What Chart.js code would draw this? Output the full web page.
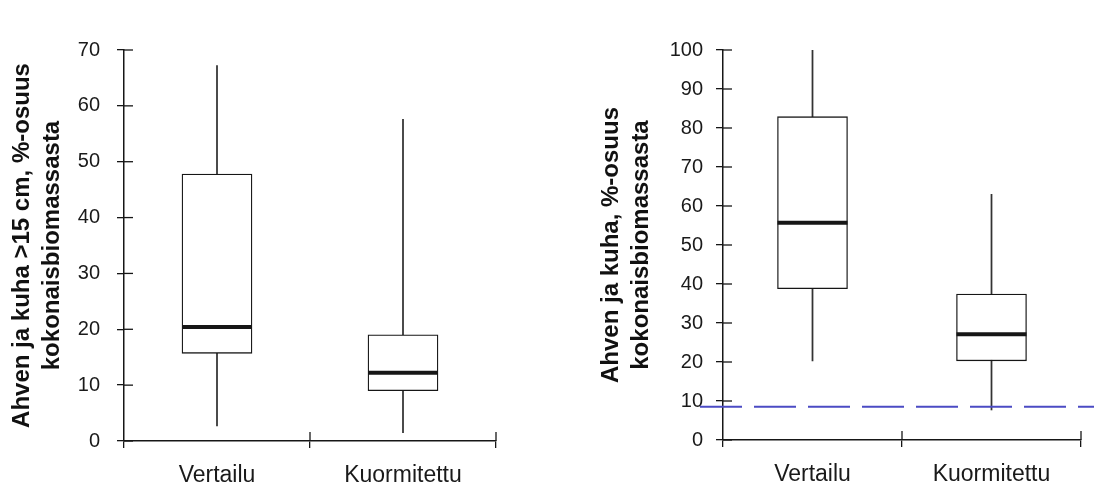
<!DOCTYPE html>
<html lang="fi">
<head>
<meta charset="UTF-8">
<title>Ahven ja kuha</title>
<script src="https://cdn.jsdelivr.net/npm/chart.js"></script>
<style>
  body { margin: 0; background: #fff; }
  .wrap { position: relative; width: 1094px; height: 488px; }
  .panel { position: absolute; top: 0; width: 547px; height: 488px; }
  #left { left: 0; }
  #right { left: 547px; }
</style>
</head>
<body>
<div class="wrap">
  <div class="panel" id="left"><canvas id="c1"></canvas></div>
  <div class="panel" id="right"><canvas id="c2"></canvas></div>
</div>
<script>
const categories = ['Vertailu', 'Kuormitettu'];

// vasen kuva: ahven ja kuha >15 cm
const leftMin = [2.7, 1.5];
const leftQ1 = [15.7, 9.0];
const leftMedian = [20.4, 12.2];
const leftQ3 = [47.8, 19.0];
const leftMax = [67.2, 57.6];
const leftTitle = ['Ahven ja kuha >15 cm, %-osuus', 'kokonaisbiomassasta'];

// oikea kuva: ahven ja kuha
const rightMin = [20.3, 7.7];
const rightQ1 = [38.8, 20.3];
const rightMedian = [55.7, 27.1];
const rightQ3 = [82.9, 37.4];
const rightMax = [100, 63.0];
const rightRefLine = 8.5;
const rightTitle = ['Ahven ja kuha, %-osuus', 'kokonaisbiomassasta'];

const FONT = "'Liberation Sans', Arial, sans-serif";
const INK = '#161616';

// median, inner half of tick marks, reference line
const boxExtras = {
  id: 'boxExtras',
  afterDatasetsDraw(chart, args, opts) {
    const { ctx, chartArea, scales: { x, y } } = chart;
    const boxes = chart.getDatasetMeta(0).data;
    const line = (x1, y1, x2, y2) => { ctx.beginPath(); ctx.moveTo(x1, y1); ctx.lineTo(x2, y2); ctx.stroke(); };
    ctx.save();
    ctx.strokeStyle = INK;
    ctx.lineWidth = 4;
    opts.median.forEach((m, i) => {
      const b = boxes[i];
      const py = y.getPixelForValue(m);
      line(b.x - b.width / 2, py, b.x + b.width / 2, py);
    });
    ctx.lineWidth = 1.3;
    y.ticks.forEach((t, i) => {
      const py = y.getPixelForTick(i);
      line(chartArea.left, py, chartArea.left + 9, py);
    });
    const n = x.ticks.length;
    const step = (x.right - x.left) / n;
    for (let k = 1; k <= n; k++) {
      const px = x.left + k * step;
      line(px, chartArea.bottom, px, chartArea.bottom - 9);
    }
    if (opts.refLine != null) {
      const py = y.getPixelForValue(opts.refLine);
      ctx.strokeStyle = '#4b4bc4';
      ctx.lineWidth = 2;
      ctx.setLineDash([42, 12]);
      line(chartArea.left - 23, py, chart.width, py);
    }
    ctx.restore();
  }
};

function makeChart(id, d, o) {
  return new Chart(document.getElementById(id), {
    type: 'bar',
    data: {
      labels: categories,
      datasets: [
        {
          data: d.q1.map((v, i) => [v, d.q3[i]]),
          backgroundColor: '#fff', borderColor: INK, borderWidth: 1.3,
          borderSkipped: false, barThickness: 70, grouped: false, order: 0
        },
        {
          data: d.min.map((v, i) => [v, d.max[i]]),
          backgroundColor: '#333', borderWidth: 0,
          barThickness: 1.1, grouped: false, order: 1
        }
      ]
    },
    options: {
      responsive: true,
      maintainAspectRatio: false,
      animation: false,
      layout: { padding: { top: 50, bottom: 0, left: 0, right: o.padRight } },
      plugins: {
        legend: { display: false },
        tooltip: { enabled: false },
        boxExtras: { median: d.median, refLine: o.refLine }
      },
      scales: {
        x: {
          grid: { offset: true, drawOnChartArea: false, tickLength: 7, color: INK, lineWidth: 1.3 },
          border: { color: INK, width: 1.5 },
          ticks: { font: { family: FONT, size: 23 }, color: '#1a1a1a', padding: 14 },
          afterFit: s => { s.height = o.axisBottom; }
        },
        y: {
          min: 0, max: o.max,
          grid: { drawOnChartArea: false, tickLength: 7, color: INK, lineWidth: 1.3 },
          border: { color: INK, width: 1.5 },
          ticks: { stepSize: 10, font: { family: FONT, size: 20 }, color: '#1a1a1a', padding: o.tickPad },
          title: {
            display: true, text: o.title, color: '#111',
            font: { family: FONT, size: 24, weight: 'bold', lineHeight: 1.25 },
            padding: { top: o.titlePad, bottom: 0 }
          },
          afterFit: s => { s.width = o.axisLeft; }
        }
      }
    },
    plugins: [boxExtras]
  });
}

makeChart('c1',
  { min: leftMin, q1: leftQ1, median: leftMedian, q3: leftQ3, max: leftMax },
  { max: 70, title: leftTitle, axisLeft: 124, axisBottom: 47, padRight: 51, tickPad: 17, titlePad: 7, refLine: null });

makeChart('c2',
  { min: rightMin, q1: rightQ1, median: rightMedian, q3: rightQ3, max: rightMax },
  { max: 100, title: rightTitle, axisLeft: 176, axisBottom: 48, padRight: 13, tickPad: 13, titlePad: 49, refLine: rightRefLine });
</script>
</body>
</html>
